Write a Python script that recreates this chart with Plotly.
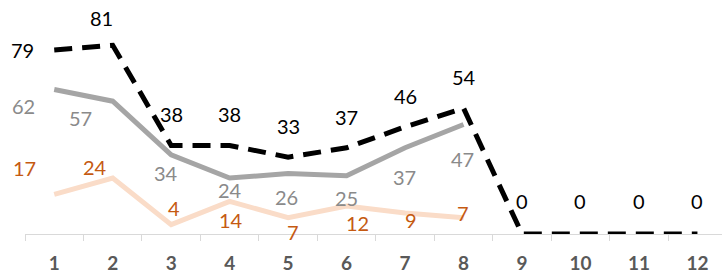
import plotly.graph_objects as go

categories = [str(i) for i in range(1, 13)]
series_black = [79, 81, 38, 38, 33, 37, 46, 54, 0, 0, 0, 0]
series_gray = [62, 57, 34, 24, 26, 25, 37, 47]
series_orange = [17, 24, 4, 14, 7, 12, 9, 7]

# label offsets in pixels (dx, dy) relative to each point -- styling only
off_black = [(-32, 0), (-11, 27), (0, 31), (0, 31), (0, 31), (0, 31), (0, 31), (0, 31),
             (0, 33), (0, 33), (0, 33), (0, 33)]
off_gray = [(-31, -16), (-32, -17), (-5, -18), (0, -12), (-2, -24), (0, -22), (-1, -29), (-1, -35)]
off_orange = [(-30, 26), (-18, 11), (3, 17), (1, -19), (5, -14), (11, -17), (6, -7), (-1, 5)]

FONT = "Lato"
fig = go.Figure()

fig.add_trace(go.Scatter(x=categories[:len(series_orange)], y=series_orange, mode="lines",
                         line=dict(color="#FADCC8", width=5), hoverinfo="skip"))
fig.add_trace(go.Scatter(x=categories[:len(series_gray)], y=series_gray, mode="lines",
                         line=dict(color="#A5A5A5", width=5), hoverinfo="skip"))
fig.add_trace(go.Scatter(x=categories, y=series_black, mode="lines",
                         line=dict(color="#000000", width=5, dash="18px,10px"), hoverinfo="skip"))

annotations = []
def add_labels(vals, offs, color):
    for i, (v, (dx, dy)) in enumerate(zip(vals, offs)):
        annotations.append(dict(x=i, y=v, text=str(v), showarrow=False,
                                xshift=dx, yshift=dy, font=dict(family=FONT, size=20, color=color),
                                xanchor="center", yanchor="middle"))

add_labels(series_black, off_black, "#000000")
add_labels(series_gray, off_gray, "#8A8A8A")
add_labels(series_orange, off_orange, "#C55A11")

fig.update_layout(
    width=722, height=278,
    margin=dict(l=25, r=0, t=1, b=44),
    paper_bgcolor="white", plot_bgcolor="white",
    showlegend=False,
    annotations=annotations,
    xaxis=dict(type="category", categoryorder="array", categoryarray=categories,
               range=[-0.5, 11.42], showgrid=False, zeroline=False,
               showline=True, linecolor="#D9D9D9", linewidth=1,
               ticks="outside", tickson="boundaries", ticklen=6, tickcolor="#D9D9D9",
               tickfont=dict(family=FONT, size=19, color="#595959", weight="bold"),
               ticklabelstandoff=12),
    yaxis=dict(range=[0, 100], visible=False),
)

fig.write_html("out.html", config={"displayModeBar": False},
               post_script="document.body.style.margin='0';")
